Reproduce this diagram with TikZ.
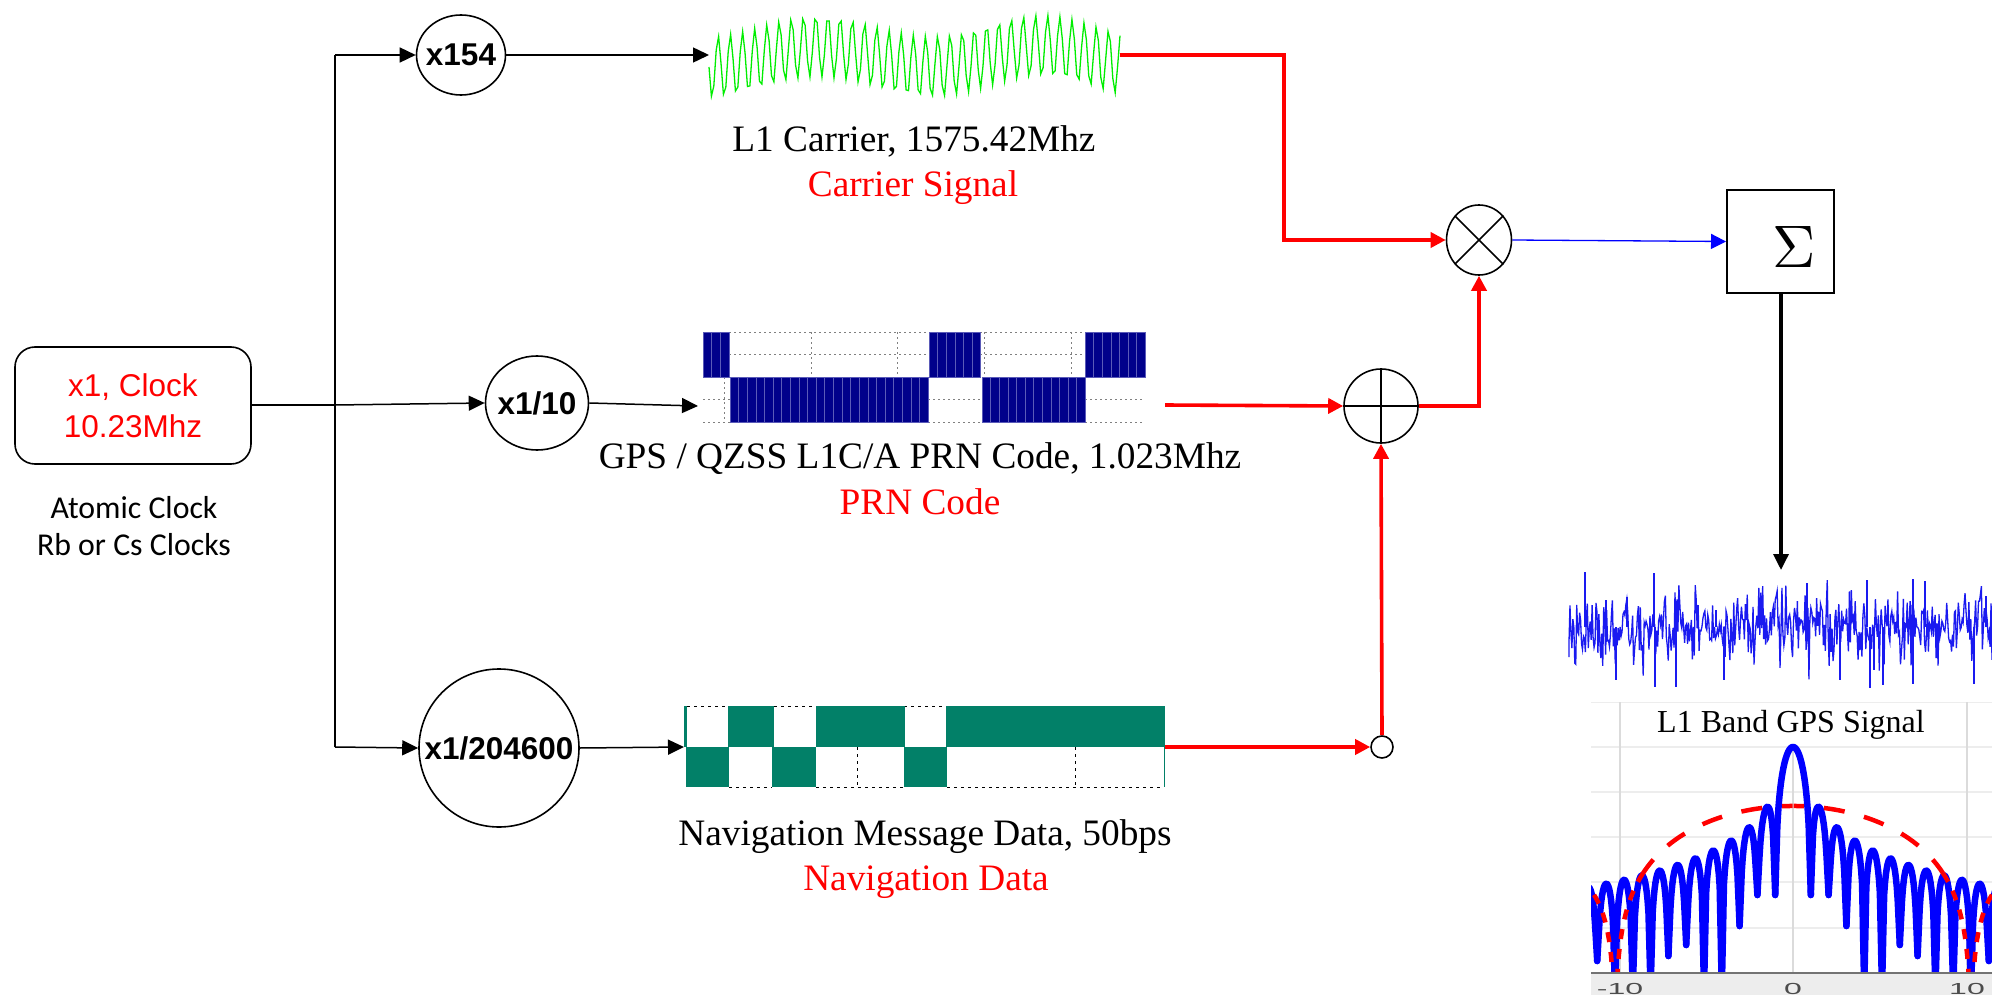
\documentclass[tikz,border=0pt]{standalone}
\usepackage{fontspec}
\setmainfont{Liberation Serif}
\setsansfont{Liberation Sans}
\newfontfamily\carlitofont{Carlito}
\usetikzlibrary{arrows.meta,shapes.geometric}
\definecolor{navfill}{HTML}{028068}
\definecolor{prnfill}{HTML}{00008B}
\definecolor{prnedge}{HTML}{5A5AB8}
\definecolor{wavegreen}{HTML}{00EE00}
\definecolor{noiseblue}{HTML}{1A1AF0}
\tikzset{
  x=1pt,y=-1pt,
  divider/.style={draw,ellipse,line width=1.6pt,inner sep=0pt},
  divtext/.style={inner sep=0pt,font=\fontsize{31.5}{36}\selectfont\sffamily\bfseries},
  junction/.style={draw,ellipse,line width=1.6pt,inner sep=0pt},
  blackline/.style={line width=1.5pt,-{Triangle[length=16pt,width=15pt]}},
  redline/.style={red,line width=3.6pt,-{Triangle[length=15pt,width=15pt]}},
  capt/.style={font=\fontsize{37.3}{42}\selectfont,anchor=base},
  captred/.style={capt,text=red},
  chip/.style={fill=prnfill,draw=prnedge,line width=.7pt},
  griddot/.style={gray,line width=1pt,dash pattern=on 1.5pt off 3.5pt},
  navdot/.style={black,line width=1pt,dash pattern=on 2.5pt off 4.5pt},
  navcell/.style={fill=navfill,draw=none},
  gridv/.style={black!14,line width=1.3pt},
  gridh/.style={black!7,line width=1.2pt},
  ticktext/.style={font=\fontsize{16}{18}\selectfont\sffamily,text=black!70,xscale=2},
  declare function={
    sy(\x)=747+90*log10(abs(3.14159*\x/sin(180*\x)));
    ry(\x)=806+90*log10(abs(3.14159*(\x/178)/sin(1.01124*\x)));
  }
}
\begin{document}
\begin{tikzpicture}
\useasboundingbox[fill=white] (0,0) rectangle (1992,995);

% clock
\node[draw,rounded corners=20pt,line width=1.6pt,minimum width=236pt,minimum height=117pt,inner sep=0pt] (clock) at (133,405.5) {};
\node[text=red,font=\fontsize{31.5}{36}\selectfont\sffamily] (clk1) at (133,387) {x1, Clock};
\node[text=red,font=\fontsize{31.5}{36}\selectfont\sffamily] (clk2) at (133,426) {10.23Mhz};
\node[font=\fontsize{31.8}{36}\selectfont\carlitofont] (atom1) at (134,508) {Atomic Clock};
\node[font=\fontsize{31.8}{36}\selectfont\carlitofont] (atom2) at (134,545) {Rb or Cs Clocks};

% dividers
\node[divider,minimum width=89pt,minimum height=80pt] (d154) at (461,55) {};
\node[divtext] (d154t) at (461,55) {x154};
\node[divider,minimum width=103pt,minimum height=94pt] (d10) at (537,403) {};
\node[divtext] (d10t) at (537,403) {x1/10};
\node[divider,minimum width=160pt,minimum height=158pt] (d204) at (499,748) {};
\node[divtext] (d204t) at (499,748) {x1/204600};

% clock tree
\coordinate (branch) at (335,405);
\coordinate (btop) at (335,55);
\coordinate (bbot) at (335,747);
\draw[line width=2.6pt] (clock.east|-branch) -- (branch);
\draw[line width=1.6pt] (btop) -- (bbot);
\draw[blackline] (btop) -- (d154.west);
\draw[blackline] (branch) -- (d10.west);
\draw[blackline] (bbot) -- (d204.west);

% signal ends
\coordinate (wavein) at (709,55);
\coordinate (waveout) at (1120,55);
\coordinate (prnin) at (698,406);
\coordinate (prnout) at (1165,405);
\coordinate (navin) at (684,747);
\coordinate (navout) at (1165,747);

% carrier wave
\draw[wavegreen,line width=1.3pt] plot[domain=0:411,samples=172] ({709+\x},{56.5+10.5*cos(1.636*\x)+31*sin(29.5*\x)});

% PRN code
\foreach \xa/\xb in {729/929,980/1085}{
  \draw[griddot] (\xa,332) -- (\xb,332);
  \draw[griddot] (\xa,354) -- (\xb,354);
}
\foreach \xa/\xb in {703/730,928/982,1085/1145}{
  \draw[griddot] (\xa,399) -- (\xb,399);
  \draw[griddot] (\xa,422) -- (\xb,422);
}
\foreach \xa in {811,897,984,1071}{\draw[griddot] (\xa,332) -- (\xa,377);}
\draw[griddot] (724,377) -- (724,422);
\foreach \i in {0,1,2}{\draw[chip] (703+\i*8.62,332) rectangle (703+\i*8.62+8.62,377);}
\foreach \i in {0,...,5}{\draw[chip] (929+\i*8.62,332) rectangle (929+\i*8.62+8.62,377);}
\foreach \i in {0,...,6}{\draw[chip] (1085+\i*8.62,332) rectangle (1085+\i*8.62+8.62,377);}
\foreach \i in {0,...,22}{\draw[chip] (730+\i*8.62,377) rectangle (730+\i*8.62+8.62,422);}
\foreach \i in {0,...,11}{\draw[chip] (982+\i*8.62,377) rectangle (982+\i*8.62+8.62,422);}

% navigation data
\foreach \xa/\xb in {687/728,774/816,904/946}{\draw[navdot] (\xa,706) -- (\xb,706);}
\foreach \xa/\xb in {729/772,816/903,947/1164}{\draw[navdot] (\xa,787) -- (\xb,787);}
\draw[navdot] (857,747) -- (857,787);
\draw[navdot] (1075,747) -- (1075,787);
\foreach \xa/\xb in {684/687,728/774,816/905,946/1165}{\fill[navcell] (\xa,706) rectangle (\xb,747);}
\foreach \xa/\xb in {686/729,772/816,904/947,1164/1165}{\fill[navcell] (\xa,747) rectangle (\xb,787);}

% captions
\node[capt] (c1) at (914,152) {L1 Carrier, 1575.42Mhz};
\node[captred] (c2) at (913,197) {Carrier Signal};
\node[capt] (c3) at (920,468) {GPS / QZSS L1C/A PRN Code, 1.023Mhz};
\node[captred] (c4) at (920,514) {PRN Code};
\node[capt] (c5) at (925,845) {Navigation Message Data, 50bps};
\node[captred] (c6) at (926,890) {Navigation Data};

% arrows into signals
\draw[blackline] (d154.east) -- (wavein);
\draw[blackline] (d10.east) -- (prnin);
\draw[blackline] (d204.east) -- (navin);

% combiners
\node[junction,minimum width=65pt,minimum height=70pt] (mult) at (1479,240) {};
\draw[line width=1.5pt] (mult.45) -- (mult.225) (mult.135) -- (mult.315);
\node[junction,minimum width=74pt,minimum height=74pt] (plus) at (1381,406) {};
\draw[line width=1.5pt] (plus.north) -- (plus.south) (plus.west) -- (plus.east);
\node[junction,minimum width=22pt,minimum height=22pt] (dot) at (1382,747) {};
\node[draw,line width=2pt,minimum width=107pt,minimum height=103pt,inner sep=0pt] (sum) at (1780.5,241.5) {};
\node[scale=6,inner sep=0pt] (sigma) at (1794,247) {$\Sigma$};

% signal paths
\draw[redline] (waveout) -- (1284,55) -- (1284,240) -- (mult.west);
\draw[redline] (prnout) -- (plus.west);
\draw[redline] (navout) -- (dot.west);
\draw[redline] (dot.north) -- (plus.south);
\draw[redline] (plus.east) -- (1479,406) -- (mult.south);
\draw[blue,line width=1.3pt,-{Triangle[length=15pt,width=15pt]}] (mult.east) -- (sum.west);

% noise output
\coordinate (noisetop) at (1781,570);
\draw[line width=3.4pt,-{Triangle[length=16pt,width=15pt]}] (sum.south-|noisetop) -- (noisetop);

\pgfmathsetseed{12}
\draw[noiseblue,line width=1.3pt] (1569,657) -- plot[domain=1569:1992,samples=440] (\x,{627+38*(rnd+rnd+rnd-1.5)});
\foreach \xs/\ys in {1585/572,1654/573,1606/600,1627/597,1716/610,1807/583,1867/580,1913/579,1925/581,1986/596,1616/680,1655/687,1676/687,1724/680,1840/680,1870/688,1883/685,1874/670,1913/684,1974/684}{
  \draw[noiseblue,line width=1.3pt] (\xs,627) -- (\xs,\ys);
}

% spectrum
\fill[black!7] (1591,973) rectangle (1992,995);
\begin{scope}
\clip (1591,702) rectangle (1992,973);
\draw[gridh] (1591,702) -- (1992,702);
\foreach \yy in {747,792,837,882,928}{\draw[gridh] (1591,\yy) -- (1992,\yy);}
\draw[gridv] (1620,702) -- (1620,973);
\draw[gridv] (1967,702) -- (1967,973);
\draw[gridv] (1793,745) -- (1793,973);
\begin{scope}[blue,line width=6.5pt,line cap=round,line join=round]
\foreach \s in {1,-1}{
  \draw plot[domain=0.001:0.88,samples=30] ({1793+\s*17.8*\x},{sy(\x)}) -- ({1793+\s*17.8},895);
  \foreach \k/\a/\b in {1/895/895,2/895/926,3/926/990,4/990/990,5/990/945,6/945/956,7/956/990,8/990/990,9/990/990,10/990/961,11/961/990,12/990/990}{
    \pgfmathsetmacro\da{\k+0.12}
    \pgfmathsetmacro\db{\k+0.88}
    \draw ({1793+\s*17.8*\k},\a) -- plot[domain=\da:\db,samples=16] ({1793+\s*17.8*\x},{sy(\x)}) -- ({1793+\s*17.8*(\k+1)},\b);
  }
}
\end{scope}
\begin{scope}[red,line width=4.5pt]
\foreach \s in {1,-1}{
  \draw[dash pattern=on 21pt off 20pt,dash phase=10.5pt] plot[domain=0.5:150,samples=70] ({1793+\s*\x},{ry(\x)});
  \draw[dash pattern=on 10pt off 10pt] plot[domain=150:176,samples=30] ({1793+\s*\x},{ry(\x)});
  \draw[dash pattern=on 10pt off 10pt] plot[domain=180:205,samples=14] ({1793+\s*\x},{ry(\x)});
}
\end{scope}
\end{scope}
\draw[black!55,line width=1.5pt] (1591,973) -- (1992,973);
\node[font=\fontsize{32}{36}\selectfont] (title) at (1791,725) {L1 Band GPS Signal};
\node[ticktext] (t1) at (1620,989) {-10};
\node[ticktext] (t2) at (1793,989) {0};
\node[ticktext] (t3) at (1967,989) {10};
\end{tikzpicture}
\end{document}
